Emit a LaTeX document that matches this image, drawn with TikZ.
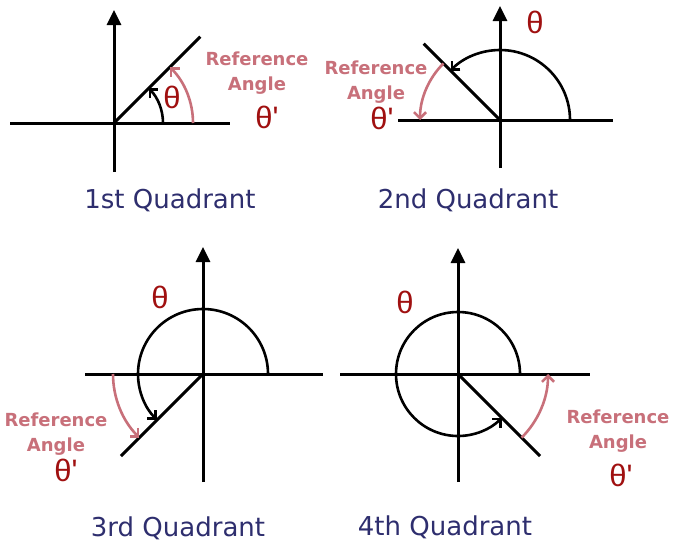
\documentclass[tikz,border=0pt]{standalone}
\usepackage{fontspec}
\setmainfont{DejaVu Sans}
\newfontfamily\thfont{Liberation Sans}
\usetikzlibrary{arrows.meta,calc}
\definecolor{refred}{HTML}{C8707A}
\definecolor{thred}{HTML}{A01010}
\definecolor{navy}{HTML}{2E2E6E}
\begin{document}
\begin{tikzpicture}[x=1pt,y=-1pt,
  axis/.style={line width=3pt, black},
  yaxis/.style={axis, -{Triangle[length=15pt,width=14pt]}},
  rayline/.style={line width=3pt, black},
  thetaarc/.style={line width=2.6pt, black, -{Straight Barb[length=6pt,width=12pt]}},
  refarc/.style={line width=2.6pt, refred, -{Straight Barb[length=6pt,width=12pt]}},
  reflabel/.style={text=refred, font=\fontsize{18}{25}\selectfont\bfseries, align=center, inner sep=0pt},
  thlabel/.style={text=thred, font=\thfont\fontsize{31}{32}\selectfont, inner sep=0pt},
  qlabel/.style={text=navy, font=\fontsize{26}{30}\selectfont, inner sep=0pt}]
\useasboundingbox (0,0) rectangle (682,546);
\fill[white] (0,0) rectangle (682,546);

% ---------- 1st quadrant ----------
\coordinate (O1) at (114,123);
\draw[axis] (10,123) -- (230,123);
\draw[yaxis] (114,172) -- (114,10);
\draw[rayline] (O1) -- ++(-45:122);
\draw[thetaarc] ($(O1)+(49,0)$) arc[start angle=0,end angle=-45,radius=49];
\draw[refarc] ($(O1)+(79,0)$) arc[start angle=0,end angle=-45,radius=79];
\node[thlabel] (t1) at (172,97) {θ};
\node[reflabel] (r1) at (257,73) {Reference\\Angle};
\node[thlabel] (tp1) at (267,117) {θ'};
\node[qlabel] (q1) at (170,200) {1st Quadrant};

% ---------- 2nd quadrant ----------
\coordinate (O2) at (500,120);
\draw[axis] (398,120) -- (613,120);
\draw[yaxis] (500,168) -- (500,6);
\draw[rayline] (O2) -- ++(-135:108);
\draw[thetaarc] ($(O2)+(70,0)$) arc[start angle=0,end angle=-135,radius=70];
\draw[refarc] ($(O2)+(-135:80)$) arc[start angle=-135,end angle=-180,radius=80];
\node[thlabel] (t2) at (535,22) {θ};
\node[reflabel] (r2) at (376,82) {Reference\\Angle};
\node[thlabel] (tp2) at (382,118) {θ'};
\node[qlabel] (q2) at (468,200) {2nd Quadrant};

% ---------- 3rd quadrant ----------
\coordinate (O3) at (203,374);
\draw[axis] (85,374) -- (323,374);
\draw[yaxis] (203,482) -- (203,247);
\draw[rayline] (O3) -- ++(-225:116);
\draw[thetaarc] ($(O3)+(65,0)$) arc[start angle=0,end angle=-225,radius=65];
\draw[refarc] ($(O3)+(-90,0)$) arc[start angle=-180,end angle=-225,radius=90];
\node[thlabel] (t3) at (160,297) {θ};
\node[reflabel] (r3) at (56,434) {Reference\\Angle};
\node[thlabel] (tp3) at (66,470) {θ'};
\node[qlabel] (q3) at (178,528) {3rd Quadrant};

% ---------- 4th quadrant ----------
\coordinate (O4) at (458,374);
\draw[axis] (340,374) -- (590,374);
\draw[yaxis] (458,482) -- (458,248);
\draw[rayline] (O4) -- ++(-315:116);
\draw[thetaarc] ($(O4)+(62,0)$) arc[start angle=0,end angle=-315,radius=62];
\draw[refarc] ($(O4)+(-315:90)$) arc[start angle=-315,end angle=-360,radius=90];
\node[thlabel] (t4) at (405,302) {θ};
\node[reflabel] (r4) at (618,431) {Reference\\Angle};
\node[thlabel] (tp4) at (621,475) {θ'};
\node[qlabel] (q4) at (445,527) {4th Quadrant};
\end{tikzpicture}
\end{document}
